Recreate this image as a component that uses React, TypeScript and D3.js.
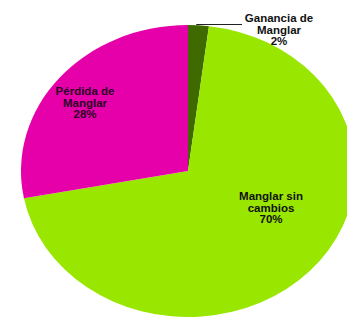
import React from "react";
import * as d3 from "d3";

const categories = ["Ganancia de Manglar", "Manglar sin cambios", "Pérdida de Manglar"];
const values = [2, 70, 28];
const colors = ["#3F6A00", "#99E600", "#E600A9"];
const labelLines = [
  ["Ganancia de", "Manglar", "2%"],
  ["Manglar sin", "cambios", "70%"],
  ["Pérdida de", "Manglar", "28%"],
];

const W = 347;
const H = 318;
const cx = 188;
const cy = 171;
const rx = 167;
const ry = 146;

export default function App() {
  const pie = d3.pie<number>().sort(null).value((d) => d);
  const arcs = pie(values);
  const arc = d3.arc<d3.PieArcDatum<number>>().innerRadius(0).outerRadius(rx);
  const sy = ry / rx;

  // label anchor positions (x center, first baseline)
  const labelPos = [
    { x: 279, y: 22, color: "#111" },
    { x: 271, y: 200, color: "#111" },
    { x: 85, y: 95, color: "#2a0024" },
  ];
  // leader line for small slice
  const a0 = arcs[0];
  const mid = (a0.startAngle + a0.endAngle) / 2;
  const lx = cx + Math.sin(mid) * rx * 0.98;
  const ly = cy - Math.cos(mid) * ry * 0.99;

  return (
    <svg
      width={W}
      height={H}
      style={{ position: "absolute", left: 0, top: 0, background: "#fff" }}
      fontFamily="'Liberation Sans', Arial, sans-serif"
    >
      <g transform={`translate(${cx},${cy}) scale(1,${sy})`}>
        {arcs.map((a, i) => (
          <path key={categories[i]} d={arc(a) || ""} fill={colors[i]} />
        ))}
      </g>
      <line x1={lx - 2} y1={24.5} x2={242} y2={24.5} stroke="#222" strokeWidth={1} />
      {labelLines.map((lines, i) => (
        <text
          key={categories[i]}
          x={labelPos[i].x}
          y={labelPos[i].y}
          textAnchor="middle"
          fontWeight="bold"
          fontSize={11.5}
          fill={labelPos[i].color}
        >
          {lines.map((t, j) => (
            <tspan key={j} x={labelPos[i].x} y={labelPos[i].y + j * 11.5}>
              {t}
            </tspan>
          ))}
        </text>
      ))}
    </svg>
  );
}
